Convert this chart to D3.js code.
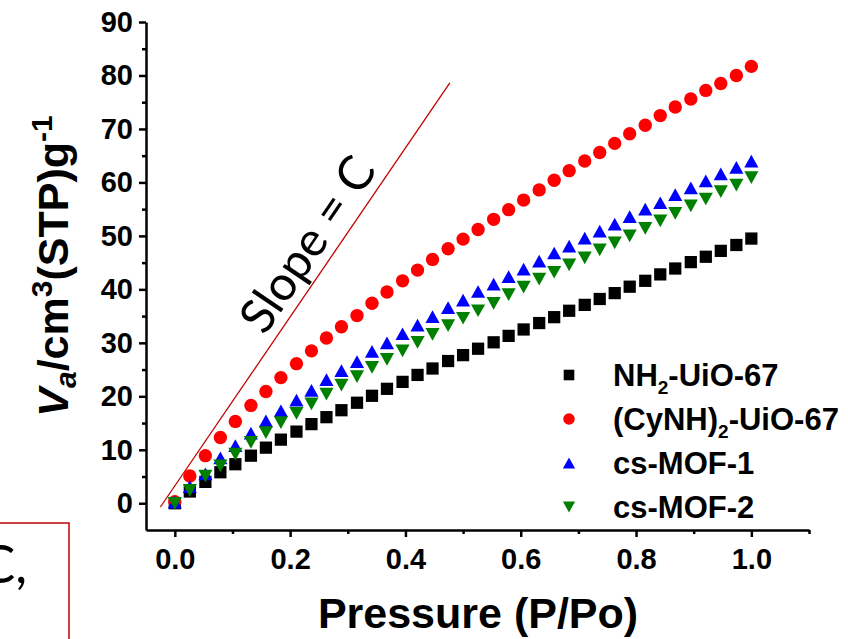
<!DOCTYPE html>
<html>
<head>
<meta charset="utf-8">
<script src="https://cdn.jsdelivr.net/npm/d3@7"></script>
<style>
  body { margin: 0; background: #fff; }
  svg { display: block; }
</style>
</head>
<body>
<div id="chart"></div>
<script>
// P/Po values shared by all four isotherms
var pressure = [0, 0.026, 0.053, 0.079, 0.105, 0.132, 0.158, 0.184, 0.211, 0.237,
    0.263, 0.289, 0.316, 0.342, 0.368, 0.395, 0.421, 0.447, 0.474, 0.5,
    0.526, 0.553, 0.579, 0.605, 0.632, 0.658, 0.684, 0.711, 0.737, 0.763,
    0.789, 0.816, 0.842, 0.868, 0.895, 0.921, 0.947, 0.974, 1.0];

var nh2UiO = [0, 2.2, 4.0, 5.8, 7.3, 8.9, 10.4, 11.9, 13.4, 14.8,
    16.1, 17.4, 18.8, 20.1, 21.4, 22.7, 24.0, 25.2, 26.6, 27.7,
    28.9, 30.1, 31.3, 32.5, 33.7, 34.8, 36.0, 37.1, 38.2, 39.3,
    40.5, 41.6, 42.8, 43.9, 45.1, 46.1, 47.2, 48.3, 49.5];

var cynhUiO = [0.3, 5.1, 8.9, 12.3, 15.3, 18.3, 20.9, 23.5, 26.1, 28.5,
    30.9, 33.0, 35.1, 37.4, 39.5, 41.6, 43.6, 45.6, 47.6, 49.4,
    51.2, 53.1, 54.9, 56.7, 58.6, 60.4, 62.2, 64.0, 65.6, 67.3,
    69.1, 70.7, 72.5, 74.1, 75.6, 77.2, 78.5, 80.0, 81.7];

var csMof1 = [0.2, 3.1, 5.5, 8.5, 10.8, 13.1, 15.4, 17.3, 19.3, 21.1,
    23.1, 24.8, 26.5, 28.4, 30.0, 31.7, 33.3, 34.9, 36.6, 38.0,
    39.6, 41.0, 42.4, 43.8, 45.3, 46.8, 48.1, 49.6, 50.9, 52.2,
    53.6, 55.0, 56.2, 57.7, 59.0, 60.3, 61.6, 62.8, 64.0];

var csMof2 = [0, 2.4, 5.1, 7.0, 9.2, 11.4, 13.2, 15.1, 16.8, 18.6,
    20.4, 22.1, 23.7, 25.4, 26.9, 28.5, 30.1, 31.6, 33.2, 34.6,
    36.0, 37.4, 39.0, 40.4, 41.9, 43.2, 44.6, 45.9, 47.4, 48.7,
    50.0, 51.4, 52.8, 54.2, 55.6, 56.9, 58.3, 59.5, 60.9];

var seriesNames = ["NH2-UiO-67", "(CyNH)2-UiO-67", "cs-MOF-1", "cs-MOF-2"];
var seriesColors = ["#000000", "#ff0000", "#0000ff", "#008000"];

var xTicks = [0.0, 0.2, 0.4, 0.6, 0.8, 1.0];
var yTicks = [0, 10, 20, 30, 40, 50, 60, 70, 80, 90];

// the "Slope = C" guide line, in data units
var slopeLine = [{x: -0.025, y: -0.7}, {x: 0.477, y: 78.6}];

var svgWidth = 848;
var svgHeight = 639;

var svg = d3.select("#chart").append("svg")
    .attr("width", svgWidth)
    .attr("height", svgHeight);

var x = d3.scaleLinear().domain([-0.05, 1.1]).range([146, 809]);
var y = d3.scaleLinear().domain([-5, 90]).range([530, 22]);

var axisFont = "'Liberation Sans', Arial, sans-serif";

// triangles centred on their bounding box (like Origin draws them)
var triUp = {
    draw: function(ctx, size) {
        var w = Math.sqrt(size), h = w * 0.9;
        ctx.moveTo(0, -h / 2);
        ctx.lineTo(w / 2, h / 2);
        ctx.lineTo(-w / 2, h / 2);
        ctx.closePath();
    }
};
var triDown = {
    draw: function(ctx, size) {
        var w = Math.sqrt(size), h = w * 0.9;
        ctx.moveTo(0, h / 2);
        ctx.lineTo(w / 2, -h / 2);
        ctx.lineTo(-w / 2, -h / 2);
        ctx.closePath();
    }
};
var symbolTypes = [d3.symbolSquare, d3.symbolCircle, triUp, triDown];
var symbolSizes = [150, 140, 200, 200];

// axes
var xAxisG = svg.append("g")
    .attr("transform", "translate(0," + y(-5) + ")")
    .call(d3.axisBottom(x).tickValues(xTicks).tickFormat(d3.format(".1f")).tickSize(7).tickSizeOuter(0));
xAxisG.append("g").call(d3.axisBottom(x).tickValues([0.1, 0.3, 0.5, 0.7, 0.9, 1.1]).tickFormat("").tickSize(4).tickSizeOuter(0))
    .select(".domain").remove();

var yAxisG = svg.append("g")
    .attr("transform", "translate(" + x(-0.05) + ",0)")
    .call(d3.axisLeft(y).tickValues(yTicks).tickSize(7).tickSizeOuter(0).tickPadding(6));
yAxisG.append("g").call(d3.axisLeft(y).tickValues([5, 15, 25, 35, 45, 55, 65, 75, 85]).tickFormat("").tickSize(4).tickSizeOuter(0))
    .select(".domain").remove();

svg.selectAll(".domain, .tick line")
    .attr("stroke", "#000")
    .attr("stroke-width", 2.5);

xAxisG.selectAll(".tick text")
    .attr("font-family", axisFont)
    .attr("font-weight", "bold")
    .attr("font-size", 29)
    .attr("fill", "#000")
    .attr("dy", "1.0em");

yAxisG.selectAll(".tick text")
    .attr("font-family", axisFont)
    .attr("font-weight", "bold")
    .attr("font-size", 29)
    .attr("fill", "#000");

// slope guide line
var line = d3.line()
    .x(function(d) { return x(d.x); })
    .y(function(d) { return y(d.y); });

svg.append("path")
    .attr("d", line(slopeLine))
    .attr("fill", "none")
    .attr("stroke", "#c00000")
    .attr("stroke-width", 1.3);

var ang = Math.atan2(y(slopeLine[0].y) - y(slopeLine[1].y), x(slopeLine[1].x) - x(slopeLine[0].x)) * 180 / Math.PI;
svg.append("text")
    .attr("transform", "translate(306,243) rotate(" + (-ang) + ")")
    .attr("text-anchor", "middle")
    .attr("dominant-baseline", "central")
    .attr("font-family", "Lato, 'Open Sans', sans-serif")
    .attr("font-size", 48)
    .attr("fill", "#000")
    .text("Slope = C");

// data series
var allSeries = [nh2UiO, cynhUiO, csMof1, csMof2];
allSeries.forEach(function(vals, s) {
    var pts = vals.map(function(v, i) { return {x: pressure[i], y: v}; });
    svg.append("g").selectAll("path")
        .data(pts)
        .enter().append("path")
            .attr("d", d3.symbol().type(symbolTypes[s]).size(symbolSizes[s]))
            .attr("transform", function(d) { return "translate(" + x(d.x) + "," + y(d.y) + ")"; })
            .attr("fill", seriesColors[s]);
});

// legend
var legendRows = [375, 419, 463, 507];
var legend = svg.append("g");
seriesNames.forEach(function(name, s) {
    legend.append("path")
        .attr("d", d3.symbol().type(symbolTypes[s]).size(symbolSizes[s] * 0.75))
        .attr("transform", "translate(569," + legendRows[s] + ")")
        .attr("fill", seriesColors[s]);
    var t = legend.append("text")
        .attr("x", 613)
        .attr("y", legendRows[s] + 11)
        .attr("font-family", axisFont)
        .attr("font-weight", "bold")
        .attr("font-size", 31)
        .attr("fill", "#000");
    var m = name.match(/^(.*?)2(-UiO-67)$/);
    if (m) {
        t.append("tspan").text(m[1]);
        t.append("tspan").attr("font-size", 19).attr("dy", 8).text("2");
        t.append("tspan").attr("dy", -8).text(m[2]);
    } else {
        t.text(name);
    }
});

// axis titles
svg.append("text")
    .attr("x", 478)
    .attr("y", 628)
    .attr("text-anchor", "middle")
    .attr("font-family", axisFont)
    .attr("font-weight", "bold")
    .attr("font-size", 43)
    .attr("fill", "#000")
    .text("Pressure (P/Po)");

var yTitle = svg.append("text")
    .attr("transform", "translate(68,266) rotate(-90)")
    .attr("text-anchor", "middle")
    .attr("font-family", axisFont)
    .attr("font-weight", "bold")
    .attr("font-size", 43)
    .attr("fill", "#000");
yTitle.append("tspan").attr("font-style", "italic").text("V");
yTitle.append("tspan").attr("font-style", "italic").attr("font-size", 30).attr("dy", 8).text("a");
yTitle.append("tspan").attr("dy", -8).text("/cm");
yTitle.append("tspan").attr("font-size", 30).attr("dy", -16).text("3");
yTitle.append("tspan").attr("dy", 16).text("(STP)g");
yTitle.append("tspan").attr("font-size", 30).attr("dy", -16).text("-1");

// cropped annotation box in the lower left corner
svg.append("rect")
    .attr("x", -10)
    .attr("y", 523)
    .attr("width", 79)
    .attr("height", 140)
    .attr("fill", "none")
    .attr("stroke", "#c00000")
    .attr("stroke-width", 1.5);

svg.append("text")
    .attr("x", 27)
    .attr("y", 583)
    .attr("text-anchor", "end")
    .attr("font-family", "Lato, 'Open Sans', sans-serif")
    .attr("font-size", 52)
    .attr("fill", "#000")
    .text("C,");
</script>
</body>
</html>
